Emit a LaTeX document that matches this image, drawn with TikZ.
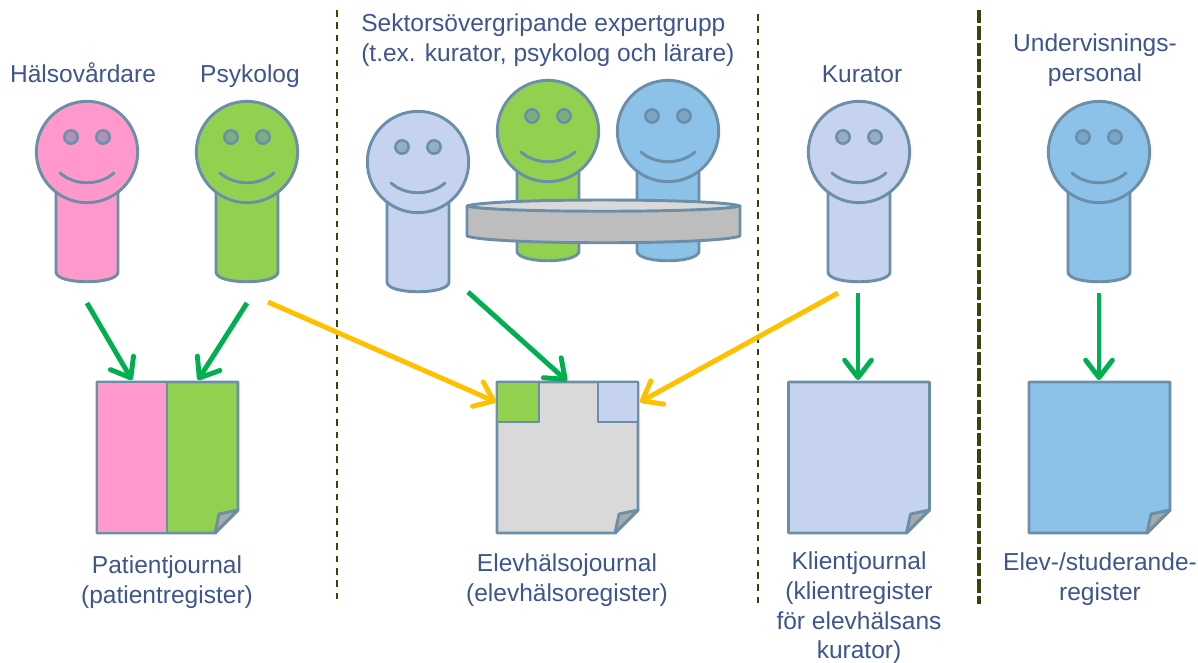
\documentclass[tikz,border=0pt]{standalone}
\usepackage{fontspec}
\setmainfont{Liberation Sans}
\usetikzlibrary{arrows.meta}
\definecolor{ln}{HTML}{6B8FA9}
\definecolor{txt}{HTML}{3F5590}
\definecolor{pinkf}{HTML}{FF99CC}
\definecolor{greenf}{HTML}{92D050}
\definecolor{bluef}{HTML}{8CC1E8}
\definecolor{lavf}{HTML}{C5D3EF}
\definecolor{grayf}{HTML}{D9D9D9}
\definecolor{tablef}{HTML}{BDBDBD}
\definecolor{foldf}{HTML}{A9A9A9}
\definecolor{arrg}{HTML}{00B050}
\definecolor{arry}{HTML}{FFC000}
\definecolor{sep}{HTML}{40400F}
\tikzset{
  x=0.75pt,y=-0.75pt,
  outline/.style={draw=ln,line width=2.2pt,line join=round},
  thin part/.style={draw=ln,line width=1.9pt},
  label/.style={text=txt,font=\fontsize{18.4}{22.3}\selectfont,align=center,inner sep=0pt},
  garrow/.style={draw=arrg,line width=3.7pt,-{Straight Barb[length=13pt,width=20pt,round]}},
  yarrow/.style={draw=arry,line width=3.7pt,-{Straight Barb[length=13pt,width=20pt,round]}},
  sepline/.style={draw=sep,line width=1.1pt,dash pattern=on 5pt off 4.3pt},
  sepheavy/.style={draw=sep,line width=2.4pt,dash pattern=on 10pt off 2.2pt},
}
% #1 name, #2 x, #3 y (head centre), #4 fill
\newcommand{\person}[4]{%
  \path[outline,fill=#4] (#2-31,#3+30) -- (#2-31,#3+120)
    .. controls (#2-31,#3+133) and (#2+31,#3+133) .. (#2+31,#3+120) -- (#2+31,#3+30) -- cycle;
  \node[circle,outline,fill=#4,minimum size=76pt,inner sep=0pt] (#1) at (#2,#3) {};
  \node[circle,thin part,fill=ln!55!#4,minimum size=10pt,inner sep=0pt] (#1el) at (#2-16,#3-15) {};
  \node[circle,thin part,fill=ln!55!#4,minimum size=10pt,inner sep=0pt] (#1er) at (#2+16,#3-15) {};
  \draw[draw=ln,line width=2.2pt,line cap=round] (#2-27,#3+21) .. controls (#2-12,#3+34) and (#2+12,#3+34) .. (#2+27,#3+21);
}
% #1 name, #2 left, #3 fill
\newcommand{\docpage}[3]{%
  \path[outline,fill=#3] (#2,382) -- (#2+141,382) -- (#2+141,510) -- (#2+118,533) -- (#2,533) -- cycle;
  \coordinate (#1) at (#2+70.5,382);
}
\newcommand{\docfold}[1]{%
  \path[outline,fill=foldf] (#1+141,510) -- (#1+122,514) -- (#1+118,533) -- cycle;
}
\begin{document}
\begin{tikzpicture}
\useasboundingbox (0,0) rectangle (1198,662);
\fill[white] (0,0) rectangle (1198,662);

% separators
\coordinate (s1a) at (337,10); \coordinate (s1b) at (337,604);
\coordinate (s2a) at (758,14); \coordinate (s2b) at (758,604);
\coordinate (s3a) at (979,10); \coordinate (s3b) at (979,604);
\draw[sepline] (s1a) -- (s1b);
\draw[sepline] (s2a) -- (s2b);
\draw[sepheavy] (s3a) -- (s3b);

% people
\person{halsa}{87}{152}{pinkf}
\person{psyk}{247}{152}{greenf}
\person{expa}{418}{162}{lavf}
\person{expb}{548}{131}{greenf}
\person{expc}{668}{131}{bluef}
\person{kur}{859}{152}{lavf}
\person{und}{1099}{152}{bluef}

% table
\path[outline,fill=tablef] (467,206) -- (467,236) .. controls (490,245) and (717,245) .. (740,236) -- (740,206) -- cycle;
\path[outline,fill=grayf] (467,206) .. controls (490,198) and (717,198) .. (740,206) .. controls (717,213) and (490,213) .. (467,206) -- cycle;

% documents
\docpage{dpat}{97}{greenf}
\path[outline,fill=pinkf] (97,382) rectangle (167,533);
\docfold{97}
\docpage{delv}{497}{grayf}
\path[outline,fill=greenf] (497,382) rectangle (539,422);
\path[outline,fill=lavf] (598,382) rectangle (638,422);
\docfold{497}
\docpage{dkli}{788.5}{lavf}
\docfold{788.5}
\docpage{dstu}{1029}{bluef}
\docfold{1029}

% connector ends
\coordinate (a1s) at (87,303); \coordinate (a1e) at (132,380);
\coordinate (a2s) at (247,303); \coordinate (a2e) at (198,380);
\coordinate (a3s) at (468,292); \coordinate (a3e) at (567,381);
\coordinate (a4s) at (858,293); \coordinate (a4e) at (858,380);
\coordinate (a5s) at (1099,293); \coordinate (a5e) at (1099,380);
\coordinate (y1s) at (268,302); \coordinate (y1e) at (496,402);
\coordinate (y2s) at (838,293); \coordinate (y2e) at (640,402);
\draw[garrow] (a1s) -- (a1e);
\draw[garrow] (a2s) -- (a2e);
\draw[garrow] (a3s) -- (a3e);
\draw[garrow] (a4s) -- (a4e);
\draw[garrow] (a5s) -- (a5e);
\draw[yarrow] (y1s) -- (y1e);
\draw[yarrow] (y2s) -- (y2e);

% labels
\node[label,anchor=base] (t1) at (83,82) {Hälsovårdare};
\node[label,anchor=base] (t2) at (250,82) {Psykolog};
\node[label,align=left,anchor=west] (t3) at (361,40) {Sektorsövergripande expertgrupp\\(t.ex. kurator, psykolog och lärare)};
\node[label,anchor=base] (t4) at (862,82) {Kurator};
\node[label] (t5) at (1095,60) {Undervisnings-\\personal};
\node[label] (t6) at (167,582) {Patientjournal\\(patientregister)};
\node[label] (t7) at (567,580) {Elevhälsojournal\\(elevhälsoregister)};
\node[label] (t8) at (859,608) {Klientjournal\\(klientregister\\för elevhälsans\\kurator)};
\node[label] (t9) at (1100,579) {Elev-/studerande-\\register};
\end{tikzpicture}
\end{document}
